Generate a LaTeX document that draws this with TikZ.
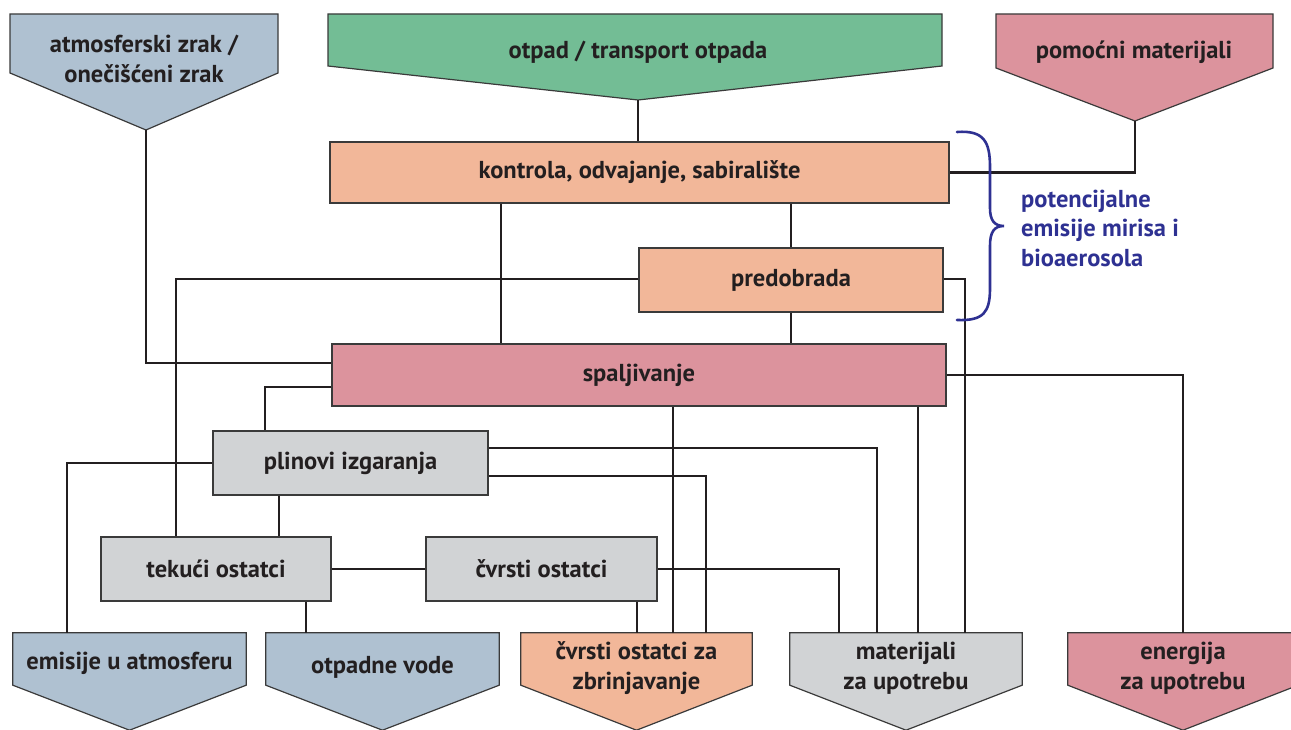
\documentclass[tikz,border=0pt]{standalone}
\usepackage{fontspec}
\usetikzlibrary{calc}
\setmainfont{PT Sans}
\definecolor{bgray}{HTML}{AFC1D1}
\definecolor{green}{HTML}{73BD95}
\definecolor{pinkc}{HTML}{DC939D}
\definecolor{peach}{HTML}{F2B799}
\definecolor{grayc}{HTML}{D1D3D5}
\definecolor{txt}{HTML}{231F20}
\definecolor{edgec}{HTML}{3A3A3A}
\definecolor{bracec}{HTML}{2E3192}
\newcommand\lblfont{\fontsize{24.5}{29.5}\selectfont\bfseries}
\begin{document}
\begin{tikzpicture}[x=1pt,y=-1pt,
  box/.style={draw=edgec, line width=1.2pt, inner sep=0pt, font=\lblfont, text=txt},
  pent/.style={draw=edgec, line width=1.2pt},
  lbl/.style={font=\lblfont, text=txt, align=center, inner sep=0pt},
  conn/.style={line width=2.8pt, draw=txt},
]
\useasboundingbox (0,0) rectangle (1291,730);

% ---- top pentagons ----
\filldraw[pent, fill=bgray] (10,14) -- (278,14) -- (278,73) -- (146,130) -- (10,73) -- cycle;
\node[lbl] (atm) at (144,59) {atmosferski zrak /\\onečišćeni zrak};
\coordinate (atmtip) at (146,130);

\filldraw[pent, fill=green] (328,14) -- (942,14) -- (942,66) -- (638,100) -- (328,66) -- cycle;
\node[lbl] (otpad) at (638,52) {otpad / transport otpada};
\coordinate (otptip) at (638,100);

\filldraw[pent, fill=pinkc] (996,14) -- (1273,14) -- (1273,68) -- (1135,121) -- (996,68) -- cycle;
\node[lbl] (pom) at (1134,52) {pomoćni materijali};
\coordinate (pomtip) at (1135,121);

% ---- process boxes ----
\node[box, fill=peach, minimum width=619pt, minimum height=61pt] (kon) at (639.5,172.5) {kontrola, odvajanje, sabiralište};
\node[box, fill=peach, minimum width=304pt, minimum height=64pt] (pre) at (791,280) {predobrada};
\node[box, fill=pinkc, minimum width=614pt, minimum height=62pt] (spal) at (639,375) {spaljivanje};
\node[box, fill=grayc, minimum width=275pt, minimum height=64pt] (plin) at (350.5,463) {plinovi izgaranja};
\node[box, fill=grayc, minimum width=230pt, minimum height=64pt] (tek) at (216,569) {tekući ostatci};
\node[box, fill=grayc, minimum width=231pt, minimum height=64pt] (cvr) at (541.5,569) {čvrsti ostatci};

% ---- bottom pentagons (rect parts as named nodes) ----
\node[minimum width=233pt, minimum height=52pt, inner sep=0pt] (emi) at (129.5,659) {};
\node[minimum width=233pt, minimum height=52pt, inner sep=0pt] (otp) at (382.5,659) {};
\node[minimum width=231pt, minimum height=52pt, inner sep=0pt] (zbr) at (636.5,659) {};
\node[minimum width=232pt, minimum height=52pt, inner sep=0pt] (mat) at (906,659) {};
\node[minimum width=230pt, minimum height=52pt, inner sep=0pt] (ene) at (1183,659) {};
\foreach \n/\c in {emi/bgray, otp/bgray, zbr/peach, mat/grayc, ene/pinkc}{
  \filldraw[pent, fill=\c] (\n.north west) -- (\n.north east) -- (\n.south east)
     -- ($(\n.south)+(0,45)$) -- (\n.south west) -- cycle;
}
\node[lbl] at (129.5,663) {emisije u atmosferu};
\node[lbl] at (382.5,667) {otpadne vode};
\node[lbl] at (636.5,668) {čvrsti ostatci za\\zbrinjavanje};
\node[lbl] at (906,668) {materijali\\za upotrebu};
\node[lbl] at (1183,668) {energija\\za upotrebu};

% ---- connectors ----
\draw[conn] (otptip) -- (kon.north -| otptip);
\draw[conn] (atmtip) |- (spal.west |- 0,363);
\draw[conn] (pomtip) |- (kon.east);
\draw[conn] (kon.south -| 501,0) -- (spal.north -| 501,0);
\draw[conn] (kon.south -| 791,0) -- (pre.north -| 791,0);
\draw[conn] (pre.south -| 791,0) -- (spal.north -| 791,0);
\draw[conn] (pre.west |- 0,279) -| (tek.north -| 176,0);
\draw[conn] (pre.east |- 0,279) -| (mat.north -| 965,0);
\draw[conn] (spal.west |- 0,387) -| (plin.north -| 265,0);
\draw[conn] (spal.east) -| (ene.north -| 1183,0);
\draw[conn] (spal.south -| 673,0) -- (zbr.north -| 673,0);
\draw[conn] (spal.south -| 918,0) -- (mat.north -| 918,0);
\draw[conn] (plin.west) -| (emi.north -| 67,0);
\draw[conn] (plin.east |- 0,448) -| (mat.north -| 877,0);
\draw[conn] (plin.east |- 0,476) -| (zbr.north -| 706,0);
\draw[conn] (plin.south -| 279,0) -- (tek.north -| 279,0);
\draw[conn] (tek.east) -- (cvr.west);
\draw[conn] (cvr.east) -| (mat.north -| 839,0);
\draw[conn] (cvr.south -| 637,0) -- (zbr.north -| 637,0);
\draw[conn] (tek.south -| 306,0) -- (otp.north -| 306,0);

% ---- brace ----
\draw[bracec, line width=2.6pt, line cap=round]
  (957,132) .. controls (984,130) and (990,142) .. (990,167)
  -- (990,208) .. controls (990,220) and (994,226) .. (1004,226)
  .. controls (994,226) and (990,232) .. (990,246)
  -- (990,288) .. controls (990,312) and (984,321) .. (957,320);
\node[font=\lblfont, text=bracec, align=left, inner sep=0pt, anchor=west] (emis) at (1021,228)
  {potencijalne\\emisije mirisa i\\bioaerosola};
\end{tikzpicture}
\end{document}
